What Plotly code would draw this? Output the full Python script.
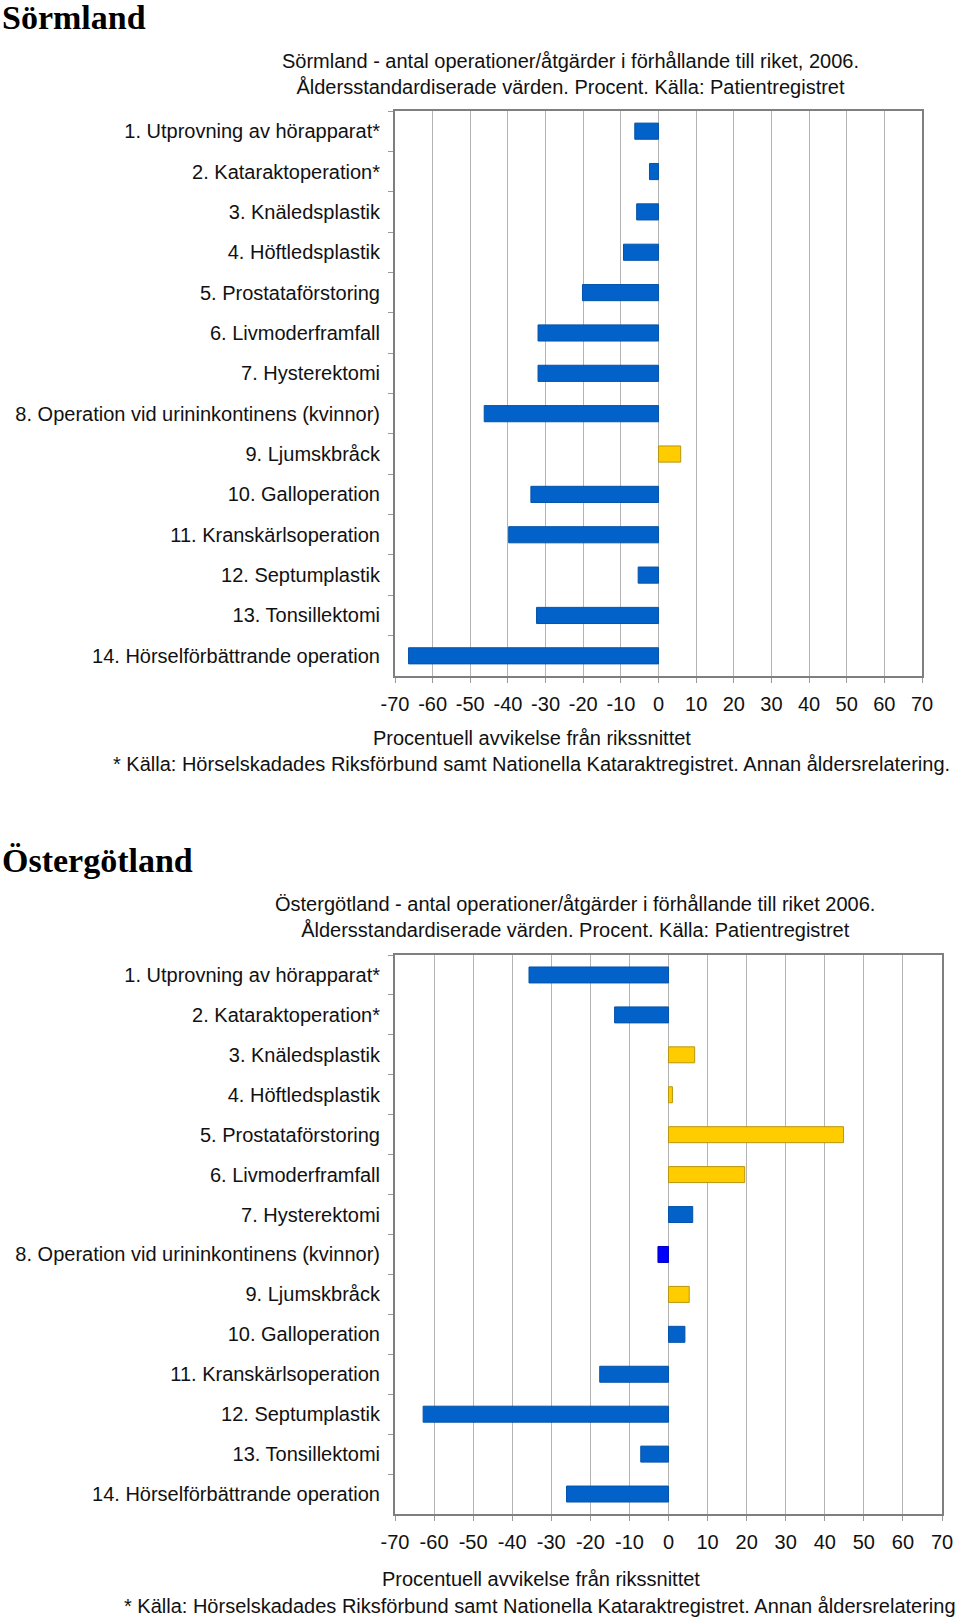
import plotly.graph_objects as go

categories = [
    "1. Utprovning av hörapparat*",
    "2. Kataraktoperation*",
    "3. Knäledsplastik",
    "4. Höftledsplastik",
    "5. Prostataförstoring",
    "6. Livmoderframfall",
    "7. Hysterektomi",
    "8. Operation vid urininkontinens (kvinnor)",
    "9. Ljumskbråck",
    "10. Galloperation",
    "11. Kranskärlsoperation",
    "12. Septumplastik",
    "13. Tonsillektomi",
    "14. Hörselförbättrande operation",
]

sormland_values = [-6.3, -2.4, -5.8, -9.3, -20.2, -32.0, -32.0, -46.3, 5.9, -33.9, -39.8, -5.4, -32.4, -66.4]
ostergotland_values = [-35.7, -13.8, 6.7, 1.0, 44.8, 19.5, 6.2, -2.7, 5.3, 4.2, -17.6, -62.8, -7.1, -26.1]

# colour group per bar: "b" = blue, "y" = yellow, "bb" = bright blue
sormland_groups = ["b", "b", "b", "b", "b", "b", "b", "b", "y", "b", "b", "b", "b", "b"]
ostergotland_groups = ["b", "b", "y", "y", "y", "y", "b", "bb", "y", "b", "b", "b", "b", "b"]

x_ticks = [-70, -60, -50, -40, -30, -20, -10, 0, 10, 20, 30, 40, 50, 60, 70]

titles = ["Sörmland", "Östergötland"]
subtitles = [
    "Sörmland - antal operationer/åtgärder i förhållande till riket, 2006.<br>Åldersstandardiserade värden. Procent. Källa: Patientregistret",
    "Östergötland - antal operationer/åtgärder i förhållande till riket 2006.<br>Åldersstandardiserade värden. Procent. Källa: Patientregistret",
]
x_title = "Procentuell avvikelse från rikssnittet"
footnotes = [
    "* Källa: Hörselskadades Riksförbund samt Nationella Kataraktregistret. Annan åldersrelatering.",
    "* Källa: Hörselskadades Riksförbund samt Nationella Kataraktregistret. Annan åldersrelatering",
]

FILL = {"b": "#0362C9", "y": "#FFCC00", "bb": "#0000FF"}
LINE = {"b": "#0453A8", "y": "#B8960E", "bb": "#0000C0"}

W, H = 960, 1619
FONT = "Liberation Sans, Arial, sans-serif"
FS = 20

def px_x(p):
    return p / W

def px_y(p):
    return 1 - p / H

fig = go.Figure()

panels = [
    dict(values=sormland_values, groups=sormland_groups, xd=(395, 922), yd=(111, 676),
         title_y=17, sub_x=570, sub_y=74, xt_x=532, xt_y=738, fn_x=531, fn_y=764),
    dict(values=ostergotland_values, groups=ostergotland_groups, xd=(395, 942), yd=(955, 1514),
         title_y=860, sub_x=575, sub_y=917, xt_x=541, xt_y=1579, fn_x=540, fn_y=1606),
]

annotations = []
for i, p in enumerate(panels):
    xa = "x" if i == 0 else "x2"
    ya = "y" if i == 0 else "y2"
    fig.add_trace(go.Bar(
        x=p["values"], y=categories, orientation="h",
        xaxis=xa, yaxis=ya, width=0.4,
        marker=dict(color=[FILL[g] for g in p["groups"]],
                    line=dict(color=[LINE[g] for g in p["groups"]], width=1)),
        showlegend=False, hoverinfo="x+y",
    ))
    axkey = "" if i == 0 else "2"
    fig.update_layout(**{
        f"xaxis{axkey}": dict(
            domain=[px_x(p["xd"][0]), px_x(p["xd"][1])], anchor=ya,
            range=[-70, 70], tickvals=x_ticks, ticktext=[str(t) for t in x_ticks],
            showgrid=True, gridcolor="#B4B4B4", gridwidth=1, zeroline=False,
            showline=True, linecolor="#7F7F7F", linewidth=2, mirror=True,
            ticks="outside", ticklen=5, tickcolor="#9A9A9A",
            tickfont=dict(family=FONT, size=FS, color="#111"),
            ticklabelstandoff=4, fixedrange=True, automargin=False,
        ),
        f"yaxis{axkey}": dict(
            domain=[px_y(p["yd"][1]), px_y(p["yd"][0])], anchor=xa,
            type="category", categoryorder="array", categoryarray=categories,
            autorange="reversed", showgrid=False, zeroline=False,
            showline=True, linecolor="#7F7F7F", linewidth=2, mirror=True,
            ticks="outside", ticklen=5, tickcolor="#9A9A9A", tickson="boundaries",
            tickfont=dict(family=FONT, size=FS, color="#111"),
            ticklabelstandoff=9, fixedrange=True, automargin=False,
        ),
    })
    annotations += [
        dict(text=f"<b>{titles[i]}</b>", x=0, y=px_y(p["title_y"]), xref="paper", yref="paper",
             xanchor="left", yanchor="middle", showarrow=False,
             font=dict(family="Liberation Serif, Times New Roman, serif", size=34, color="#000")),
        dict(text=subtitles[i], x=px_x(p["sub_x"]), y=px_y(p["sub_y"]), xref="paper", yref="paper",
             xanchor="center", yanchor="middle", showarrow=False, align="center",
             font=dict(family=FONT, size=FS, color="#111")),
        dict(text=x_title, x=px_x(p["xt_x"]), y=px_y(p["xt_y"]), xref="paper", yref="paper",
             xanchor="center", yanchor="middle", showarrow=False,
             font=dict(family=FONT, size=FS, color="#111")),
        dict(text=footnotes[i], x=px_x(p["fn_x"]), y=px_y(p["fn_y"]), xref="paper", yref="paper",
             xanchor="center", yanchor="middle", showarrow=False,
             font=dict(family=FONT, size=FS, color="#111")),
    ]

fig.update_layout(
    width=W, height=H, autosize=False,
    margin=dict(l=0, r=0, t=0, b=0, pad=0, autoexpand=False),
    paper_bgcolor="white", plot_bgcolor="white",
    bargap=0.6, annotations=annotations,
)

fig.write_html("out.html", config={"displayModeBar": False},
               post_script="document.body.style.margin='0';")
